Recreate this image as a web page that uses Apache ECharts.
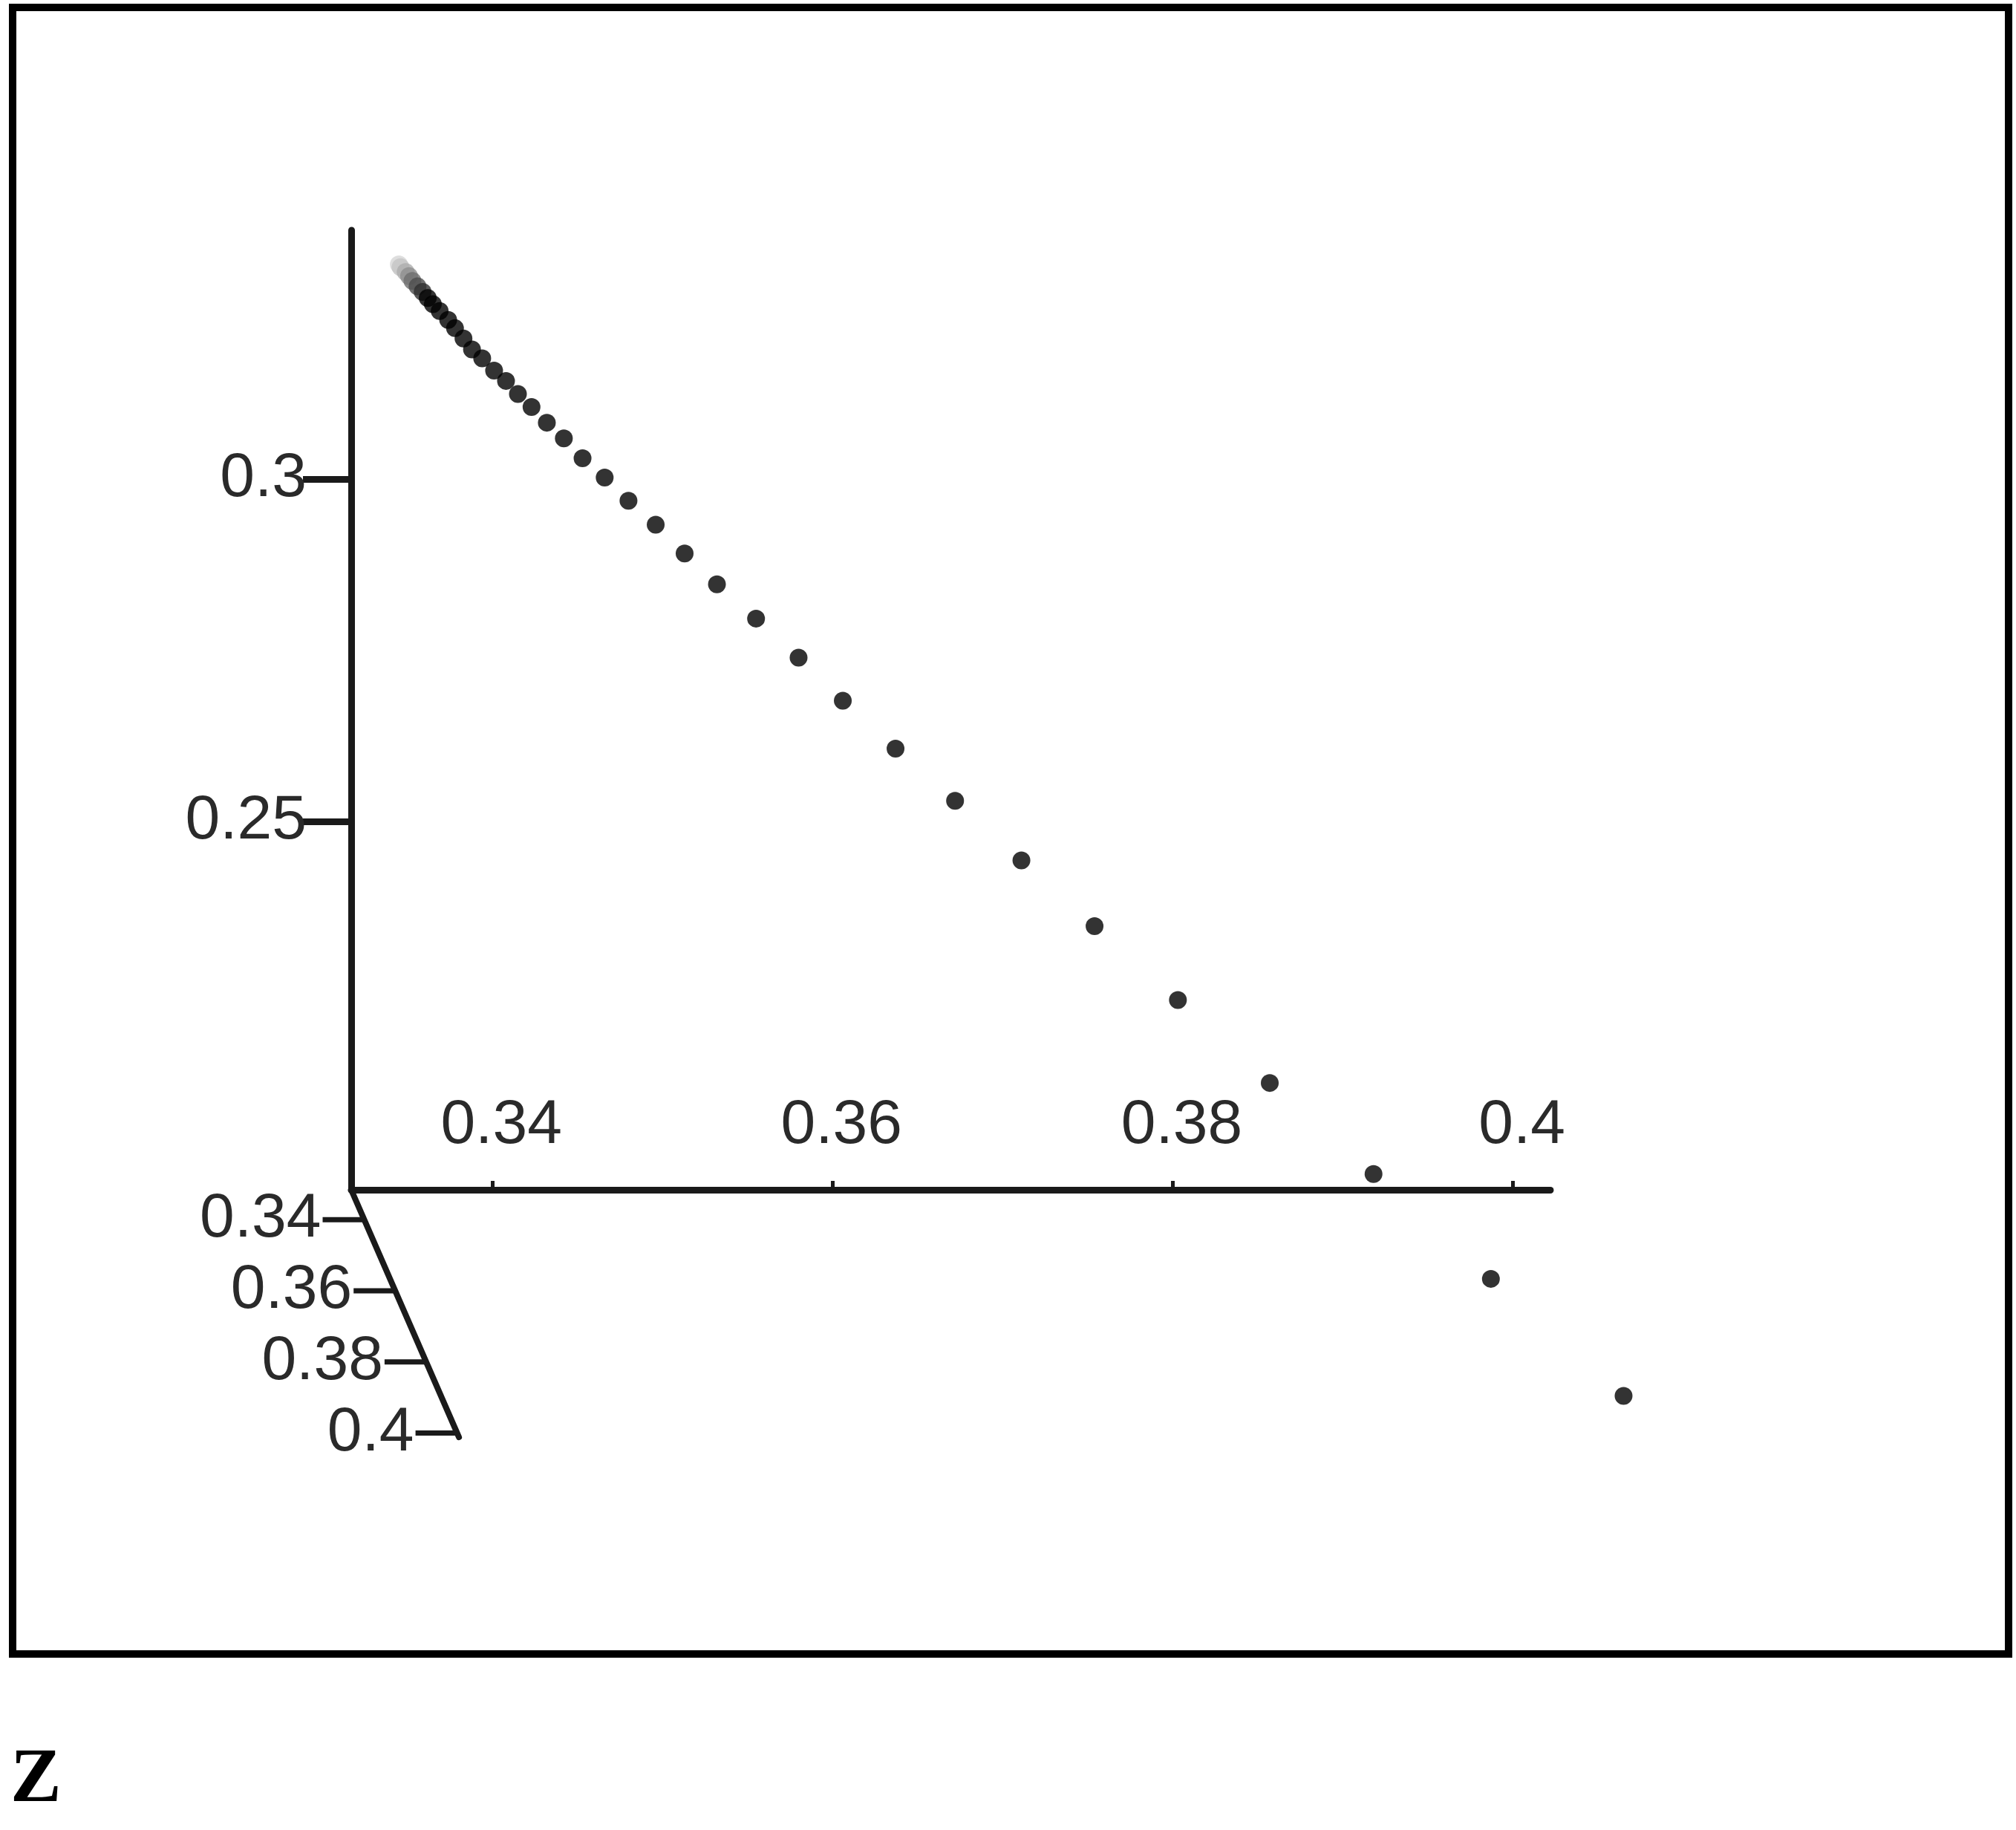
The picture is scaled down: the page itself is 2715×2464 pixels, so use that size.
<!DOCTYPE html>
<html>
<head>
<meta charset="utf-8">
<style>
  html, body { margin: 0; padding: 0; background: #ffffff; }
  #chart { width: 2715px; height: 2464px; }
</style>
<script src="https://cdn.jsdelivr.net/npm/echarts@6/dist/echarts.min.js"></script>
</head>
<body>
<div id="chart"></div>
<script>
// ---- data ----
const xTicks = [0.34, 0.36, 0.38, 0.4];
const yTicks = [0.25, 0.3];
const depthTicks = [0.34, 0.36, 0.38, 0.4];
const depthTickLabels = ['0.34', '0.36', '0.38', '0.4'];

const xValues = [
  0.3345, 0.3346, 0.3349, 0.3351, 0.3353, 0.3356, 0.3359, 0.3362, 0.3365, 0.3369,
  0.3374, 0.3378, 0.3383, 0.3388, 0.3394, 0.3401, 0.3408, 0.3415, 0.3423, 0.3432,
  0.3442, 0.3453, 0.3466, 0.3480, 0.3496, 0.3513, 0.3532, 0.3555, 0.3580, 0.3606,
  0.3637, 0.3672, 0.3711, 0.3754, 0.3803, 0.3857, 0.3918, 0.3987, 0.4065
];
const yValues = [
  0.3313, 0.3309, 0.3302, 0.3296, 0.3289, 0.3281, 0.3273, 0.3264, 0.3255, 0.3245,
  0.3232, 0.3220, 0.3205, 0.3189, 0.3176, 0.3158, 0.3143, 0.3124, 0.3105, 0.3082,
  0.3059, 0.3030, 0.3002, 0.2968, 0.2933, 0.2891, 0.2846, 0.2796, 0.2739, 0.2676,
  0.2606, 0.2530, 0.2443, 0.2347, 0.2239, 0.2118, 0.1985, 0.1832, 0.1661
];

// ---- axis ranges (scale parameters) ----
const X_MIN = 0.3317, X_MAX = 0.4022;
const Y_MIN = 0.1962, Y_MAX = 0.3363;
const Z_MIN = 0.3316, Z_MAX = 0.4012;
// oblique projection of depth into the x/y plane (data units per depth unit)
const DEPTH_DX = 0.0910, DEPTH_DY = 0.5190;

const FONT = 'Liberation Sans';
const AXIS_COLOR = '#1a1a1a';
const LABEL_COLOR = '#2a2a2a';
const FADE = ['#d6d6d6', '#c4c4c4', '#acacac', '#8e8e8e', '#6e6e6e', '#4e4e4e', '#303030'];

function project(x, y, z, api) {
  return api.coord([x + (z - Z_MIN) * DEPTH_DX, y - (z - Z_MIN) * DEPTH_DY]);
}

const chart = echarts.init(document.getElementById('chart'), null, { renderer: 'canvas' });

const option = {
  backgroundColor: '#ffffff',
  animation: false,
  textStyle: { fontFamily: FONT },
  title: {
    text: 'Z',
    left: 14,
    top: 2347,
    padding: 0,
    textStyle: { fontFamily: 'Liberation Serif', fontWeight: 'bold', fontSize: 103, lineHeight: 103, color: '#000' }
  },
  graphic: [{
    type: 'rect',
    z: 100,
    silent: true,
    shape: { x: 17, y: 10, width: 2688, height: 2217 },
    style: { fill: 'none', stroke: '#000', lineWidth: 10 }
  }],
  grid: { left: 473, top: 310, width: 1615, height: 1292, show: false, outerBoundsMode: 'none' },
  xAxis: {
    type: 'value',
    min: X_MIN, max: X_MAX,
    axisLine: { show: true, lineStyle: { color: AXIS_COLOR, width: 9, cap: 'round' } },
    axisTick: { show: true, inside: true, length: 12, customValues: xTicks, lineStyle: { color: AXIS_COLOR, width: 5 } },
    axisLabel: {
      show: true, inside: true, customValues: xTicks, margin: 44,
      fontSize: 84, fontFamily: FONT, color: LABEL_COLOR, padding: [0, 0, 0, 24]
    },
    splitLine: { show: false }
  },
  yAxis: {
    type: 'value',
    min: Y_MIN, max: Y_MAX,
    axisLine: { show: true, lineStyle: { color: AXIS_COLOR, width: 9, cap: 'round' } },
    axisTick: { show: true, inside: false, length: 65, customValues: yTicks, lineStyle: { color: AXIS_COLOR, width: 9 } },
    axisLabel: { show: true, customValues: yTicks, margin: 60, fontSize: 84, fontFamily: FONT, color: LABEL_COLOR },
    splitLine: { show: false }
  },
  series: [
    {
      name: 'depthAxisLine',
      type: 'custom',
      coordinateSystem: 'cartesian2d',
      silent: true,
      data: [[Z_MIN, Z_MAX]],
      renderItem: function (params, api) {
        const a = project(X_MIN, Y_MIN, api.value(0), api);
        const b = project(X_MIN, Y_MIN, api.value(1), api);
        return {
          type: 'line',
          shape: { x1: a[0], y1: a[1], x2: b[0], y2: b[1] },
          style: { stroke: AXIS_COLOR, lineWidth: 8, lineCap: 'round' }
        };
      }
    },
    {
      name: 'depthAxisTicks',
      type: 'custom',
      coordinateSystem: 'cartesian2d',
      silent: true,
      data: depthTicks.map(function (v, i) { return [v, i]; }),
      renderItem: function (params, api) {
        const p = project(X_MIN, Y_MIN, api.value(0), api);
        const len = 56;
        return {
          type: 'group',
          children: [
            {
              type: 'line',
              shape: { x1: p[0] - len, y1: p[1], x2: p[0], y2: p[1] },
              style: { stroke: AXIS_COLOR, lineWidth: 7 }
            },
            {
              type: 'text',
              style: {
                x: p[0] - len - 2, y: p[1],
                text: depthTickLabels[api.value(1)],
                align: 'right', verticalAlign: 'middle',
                fontSize: 84, fontFamily: FONT, fill: LABEL_COLOR
              }
            }
          ]
        };
      }
    },
    {
      name: 'points',
      type: 'scatter',
      clip: false,
      symbol: 'circle',
      symbolSize: 24,
      z: 5,
      itemStyle: {
        color: function (p) { return p.dataIndex < FADE.length ? FADE[p.dataIndex] : '#000'; }
      },
      data: xValues.map(function (x, i) { return [x, yValues[i]]; })
    }
  ]
};

chart.setOption(option);
</script>
</body>
</html>
